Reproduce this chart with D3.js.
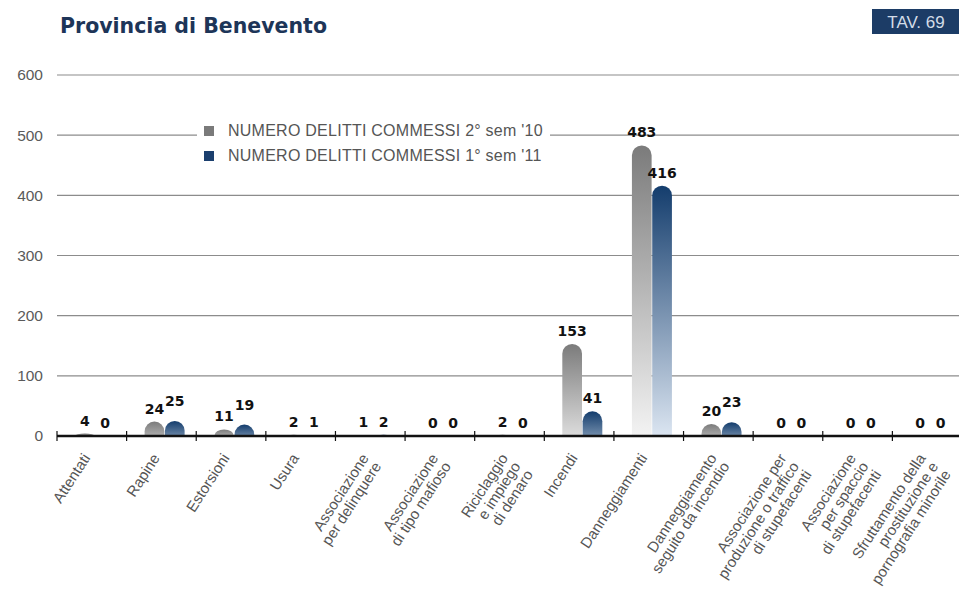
<!DOCTYPE html>
<html>
<head>
<meta charset="utf-8">
<script src="https://cdn.jsdelivr.net/npm/d3@7"></script>
<style>
  html, body { margin: 0; padding: 0; background: #ffffff; }
  svg { display: block; }
</style>
</head>
<body>
<svg id="chart" width="959" height="605"></svg>
<script>
// ---- data ----
const titleText = "Provincia di Benevento";
const tavText = "TAV. 69";
const categories = [
  "Attentati",
  "Rapine",
  "Estorsioni",
  "Usura",
  "Associazione\nper delinquere",
  "Associazione\ndi tipo mafioso",
  "Riciclaggio\ne impiego\ndi denaro",
  "Incendi",
  "Danneggiamenti",
  "Danneggiamento\nseguito da incendio",
  "Associazione per\nproduzione o traffico\ndi stupefacenti",
  "Associazione\nper spaccio\ndi stupefacenti",
  "Sfruttamento della\nprostituzione e\npornografia minorile"
];
const seriesNames = ["NUMERO DELITTI COMMESSI 2° sem '10", "NUMERO DELITTI COMMESSI 1° sem '11"];
const values2sem10 = [4, 24, 11, 2, 1, 0, 2, 153, 483, 20, 0, 0, 0];
const values1sem11 = [0, 25, 19, 1, 2, 0, 0, 41, 416, 23, 0, 0, 0];
const yTicks = [0, 100, 200, 300, 400, 500, 600];

// ---- setup ----
const svg = d3.select("#chart");
const W = 959;
const defs = svg.append("defs");

const y = d3.scaleLinear().domain([0, 600]).range([436, 75]);
const x = d3.scaleBand().domain(categories).range([57, 962]).paddingInner(0).paddingOuter(0);
const x1 = d3.scaleBand().domain([0, 1]).range([18, 58]).paddingInner(0.03);

const darkColors = ["#7b7b7b", "#143d6d"];
const lightColors = ["#f3f3f3", "#dbe5f1"];
const legendColors = ["#7a7a7a", "#1b3f6e"];

// ---- title ----
svg.append("text")
  .attr("x", 60).attr("y", 33)
  .attr("font-family", "'DejaVu Sans', sans-serif")
  .attr("font-weight", "bold")
  .attr("font-size", 20.5)
  .attr("fill", "#1d3558")
  .text(titleText);

// ---- TAV badge ----
svg.append("rect").attr("x", 872).attr("y", 9).attr("width", 87).attr("height", 25).attr("fill", "#1c3c66");
svg.append("text")
  .attr("x", 916).attr("y", 28)
  .attr("text-anchor", "middle")
  .attr("font-family", "'Liberation Sans', Arial, sans-serif")
  .attr("font-size", 17)
  .attr("fill", "#d3dce8")
  .text(tavText);

// ---- grid & y labels ----
const gridG = svg.append("g");
gridG.selectAll("line.grid").data(yTicks.filter(d => d > 0)).join("line")
  .attr("class", "grid")
  .attr("x1", 57).attr("x2", W)
  .attr("y1", d => y(d)).attr("y2", d => y(d))
  .attr("stroke", "#8c8c8c").attr("stroke-width", 1.2);

const yAxis = d3.axisLeft(y).tickValues(yTicks).tickSize(0).tickPadding(14).tickFormat(d3.format("d"));
const yG = svg.append("g").attr("transform", "translate(57,0)").call(yAxis);
yG.select(".domain").remove();
yG.selectAll("text")
  .attr("font-family", "'Liberation Sans', Arial, sans-serif")
  .attr("font-size", 15.5)
  .attr("fill", "#5a5a5a");

// ---- legend ----
const legG = svg.append("g");
legG.append("rect").attr("x", 197).attr("y", 118).attr("width", 353).attr("height", 48).attr("fill", "#ffffff");
seriesNames.forEach((name, i) => {
  const ly = 126 + i * 25;
  legG.append("rect").attr("x", 204).attr("y", ly).attr("width", 10).attr("height", 10).attr("fill", legendColors[i]);
  legG.append("text")
    .attr("x", 228).attr("y", ly + 10)
    .attr("font-family", "'Liberation Sans', Arial, sans-serif")
    .attr("font-size", 16)
    .attr("letter-spacing", 0.25)
    .attr("fill", "#555555")
    .text(name);
});

// ---- bars ----
const data = categories.map((c, i) => ({ cat: c, vals: [values2sem10[i], values1sem11[i]] }));
function barPath(x0, w, yTop, yBase) {
  const h = yBase - yTop;
  if (h <= 0) return "";
  const r = w / 2;
  const ry = Math.min(r, h);
  return `M${x0},${yBase}L${x0},${yTop + ry}A${r},${ry} 0 0 1 ${x0 + w},${yTop + ry}L${x0 + w},${yBase}Z`;
}

const barsG = svg.append("g");
let gid = 0;
data.forEach(d => {
  d.vals.forEach((v, s) => {
    if (v <= 0) return;
    const x0 = x(d.cat) + x1(s);
    const w = x1.bandwidth();
    const yTop = y(v), yBase = y(0);
    const h = yBase - yTop;
    const id = "g" + (gid++);
    const t = Math.min(1, h / 130);
    const lg = defs.append("linearGradient").attr("id", id).attr("x1", 0).attr("y1", 0).attr("x2", 0).attr("y2", 1);
    lg.append("stop").attr("offset", 0).attr("stop-color", darkColors[s]);
    lg.append("stop").attr("offset", 1).attr("stop-color", d3.interpolateRgb(d3.interpolateRgb(darkColors[s], lightColors[s])(0.35), lightColors[s])(t));
    barsG.append("path").attr("d", barPath(x0, w, yTop, yBase)).attr("fill", `url(#${id})`);
  });
});

// ---- x axis ----
svg.append("line")
  .attr("x1", 57).attr("x2", W)
  .attr("y1", y(0)).attr("y2", y(0))
  .attr("stroke", "#111").attr("stroke-width", 2.5);
const tickPos = categories.map(c => x(c));
svg.selectAll("line.tk").data(tickPos).join("line")
  .attr("class", "tk")
  .attr("x1", d => d).attr("x2", d => d)
  .attr("y1", y(0) - 5).attr("y2", y(0) + 5)
  .attr("stroke", "#111").attr("stroke-width", 1.2);

// ---- x labels ----
const xlG = svg.append("g");
categories.forEach(c => {
  const cx = x(c) + x.bandwidth() / 2;
  const g = xlG.append("g").attr("transform", `translate(${cx - 1},${458}) rotate(-57)`);
  const lines = c.split("\n");
  const t = g.append("text")
    .attr("text-anchor", "end")
    .attr("font-family", "'Liberation Sans', Arial, sans-serif")
    .attr("font-size", 15)
    .attr("fill", "#555555");
  lines.forEach((ln, i) => {
    t.append("tspan").attr("x", 0).attr("dy", i === 0 ? 0 : 15).text(ln);
  });
});

// ---- value labels ----
const vlG = svg.append("g");
data.forEach(d => {
  const ys = d.vals.map(v => y(v) - 8);
  const both = d.vals[0] >= 10 && d.vals[1] >= 10 && Math.abs(ys[0] - ys[1]) < 14;
  d.vals.forEach((v, s) => {
    const cx = x(d.cat) + x1(s) + x1.bandwidth() / 2;
    let yy = ys[s];
    if (both && s === 1) yy = Math.min(ys[0], ys[1]) - 7;
    vlG.append("text")
      .attr("x", cx).attr("y", yy)
      .attr("text-anchor", "middle")
      .attr("font-family", "'DejaVu Sans', sans-serif")
      .attr("font-weight", "bold")
      .attr("font-size", 14)
      .attr("fill", "#111")
      .text(v);
  });
});
</script>
</body>
</html>
